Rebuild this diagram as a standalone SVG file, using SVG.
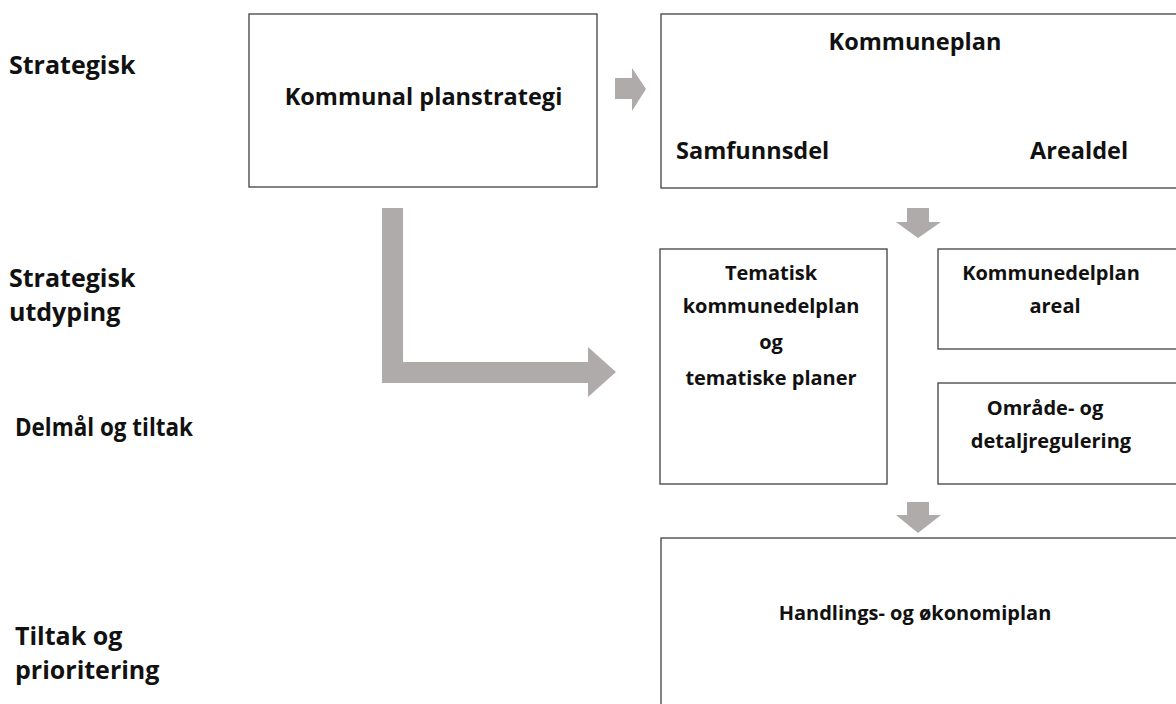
<svg xmlns="http://www.w3.org/2000/svg" width="1176" height="704" viewBox="0 0 1176 704">
<style>
.box{fill:#fff;stroke:#404040;stroke-width:1.3}
.arr{fill:#afabab}
text{font-family:"Open Sans","Liberation Sans",sans-serif;font-weight:bold;fill:#111}
.l{font-size:25px}
.b{font-size:23.5px}
.s{font-size:20px}
.m{text-anchor:middle}
</style>
<rect width="1176" height="704" fill="#fff"/>
<g id="labels">
<text class="l" x="9" y="74">Strategisk</text>
<text class="l" x="9" y="287">Strategisk</text>
<text class="l" x="9" y="321">utdyping</text>
<text class="l" x="15" y="436" textLength="178" lengthAdjust="spacingAndGlyphs">Delmål og tiltak</text>
<text class="l" x="15" y="645">Tiltak og</text>
<text class="l" x="15" y="679">prioritering</text>
</g>
<g id="connectors">
<polygon class="arr" points="615,78 632,78 632,68 646,89 632,111 632,99 615,99"/>
<polygon class="arr" points="907,208 929,208 929,222 941,222 918,238 896,222 907,222"/>
<polygon class="arr" points="907,502 929,502 929,515 941,515 918,533 896,515 907,515"/>
<polygon class="arr" points="382,208 403,208 403,362 588,362 588,347 616,372 588,397 588,383 382,383"/>
</g>
<g id="n-planstrategi">
<rect class="box" x="249" y="14" width="348" height="173"/>
<text class="b m" x="423.5" y="105">Kommunal planstrategi</text>
</g>
<g id="n-kommuneplan">
<rect class="box" x="661" y="14" width="530" height="174"/>
<text class="b m" x="915" y="50">Kommuneplan</text>
<text class="b" x="676" y="159">Samfunnsdel</text>
<text class="b" x="1030" y="159">Arealdel</text>
</g>
<g id="n-tematisk">
<rect class="box" x="660" y="249" width="227" height="235"/>
<text class="s m" x="771" y="280">Tematisk</text>
<text class="s m" x="771" y="313">kommunedelplan</text>
<text class="s m" x="771" y="349">og</text>
<text class="s m" x="771" y="385">tematiske planer</text>
</g>
<g id="n-areal">
<rect class="box" x="938" y="249" width="250" height="100"/>
<text class="s m" x="1051" y="280">Kommunedelplan</text>
<text class="s m" x="1055" y="313">areal</text>
</g>
<g id="n-regulering">
<rect class="box" x="938" y="383" width="250" height="101"/>
<text class="s m" x="1045" y="415">Område- og</text>
<text class="s m" x="1051" y="448">detaljregulering</text>
</g>
<g id="n-handlingsplan">
<rect class="box" x="661" y="538" width="530" height="180"/>
<text class="s m" x="915" y="620">Handlings- og økonomiplan</text>
</g>
</svg>
